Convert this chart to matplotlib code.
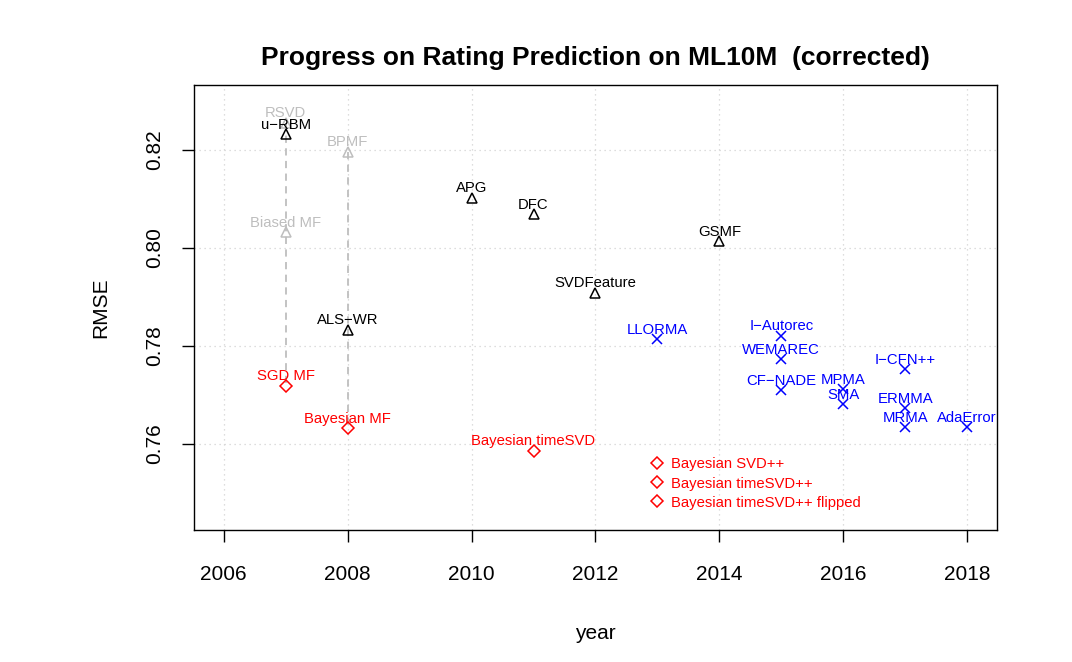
import matplotlib
matplotlib.use('Agg')
import matplotlib.pyplot as plt

plt.rcParams['font.family'] = ['Liberation Sans', 'DejaVu Sans']

M = '\u2212'

# originally reported (grey) results
old_names = ['RSVD', 'BPMF', 'Biased MF']
old_years = [2007, 2008, 2007]
old_rmse = [0.8256, 0.8197, 0.8033]

# other baselines (black)
base_names = ['u' + M + 'RBM', 'APG', 'DFC', 'GSMF', 'SVDFeature', 'ALS' + M + 'WR']
base_years = [2007, 2010, 2011, 2014, 2012, 2008]
base_rmse = [0.8233, 0.8103, 0.8069, 0.8014, 0.7909, 0.7833]

# corrected baselines (red)
red_names = ['SGD MF', 'Bayesian MF', 'Bayesian timeSVD']
red_years = [2007, 2008, 2011]
red_rmse = [0.7719, 0.7632, 0.7586]

red2_names = ['Bayesian SVD++', 'Bayesian timeSVD++', 'Bayesian timeSVD++ flipped']
red2_years = [2013, 2013, 2013]
red2_rmse = [0.7561, 0.7522, 0.7483]

# newer methods (blue)
blue_names = ['LLORMA', 'I' + M + 'Autorec', 'WEMAREC', 'CF' + M + 'NADE', 'MPMA', 'SMA',
              'I' + M + 'CFN++', 'ERMMA', 'MRMA', 'AdaError']
blue_years = [2013, 2015, 2015, 2015, 2016, 2016, 2017, 2017, 2017, 2018]
blue_rmse = [0.7814, 0.7821, 0.7773, 0.7709, 0.7712, 0.7681, 0.7753, 0.7673, 0.7634, 0.7634]

# vertical corrections: (year, from, to)
corr_years = [2007, 2008]
corr_from = [0.8256, 0.8197]
corr_to = [0.7719, 0.7632]

x_ticks = [2006, 2008, 2010, 2012, 2014, 2016, 2018]
y_ticks = [0.76, 0.78, 0.80, 0.82]

fig = plt.figure(figsize=(10.72, 6.62), dpi=100)
ax = fig.add_axes([0.181, 0.1994, 0.749, 0.6722])
ax.set_xlim(2005.52, 2018.48)
ax.set_ylim(0.7424, 0.8333)

# grid
for xv in x_ticks:
    ax.axvline(xv, color='#d3d3d3', lw=0.9, ls=(0, (1, 3)), zorder=0)
for yv in y_ticks:
    ax.axhline(yv, color='#d3d3d3', lw=0.9, ls=(0, (1, 3)), zorder=0)

for xv, y0, y1 in zip(corr_years, corr_from, corr_to):
    ax.plot([xv, xv], [y0, y1], color='#bebebe', lw=1.3, ls=(0, (4, 3)), zorder=1)


def label_above(names, xs, ys, color):
    for n, xv, yv in zip(names, xs, ys):
        ax.annotate(n, (xv, yv), xytext=(0, 3.8), textcoords='offset points',
                    ha='center', va='baseline', fontsize=10.7, color=color, zorder=4)


ax.plot(old_years, old_rmse, ls='none', marker='^', ms=7, mfc='none', mec='#bebebe', mew=1.1, zorder=2)
label_above(old_names, old_years, old_rmse, '#bebebe')

ax.plot(base_years, base_rmse, ls='none', marker='^', ms=7, mfc='none', mec='black', mew=1.1, zorder=3)
label_above(base_names, base_years, base_rmse, 'black')

ax.plot(red_years, red_rmse, ls='none', marker='D', ms=6, mfc='none', mec='red', mew=1.1, zorder=3)
label_above(red_names, red_years, red_rmse, 'red')

ax.plot(red2_years, red2_rmse, ls='none', marker='D', ms=6, mfc='none', mec='red', mew=1.1, zorder=3)
for n, xv, yv in zip(red2_names, red2_years, red2_rmse):
    ax.annotate(n, (xv, yv), xytext=(9.5, 0), textcoords='offset points',
                ha='left', va='center_baseline', fontsize=10.7, color='red', zorder=4)

ax.plot(blue_years, blue_rmse, ls='none', marker='x', ms=6.5, mec='blue', mew=1.1, zorder=3)
label_above(blue_names, blue_years, blue_rmse, 'blue')

ax.set_xticks(x_ticks)
ax.set_yticks(y_ticks)
ax.set_yticklabels(['0.76', '0.78', '0.80', '0.82'], rotation=90, va='center')
ax.tick_params(axis='x', direction='out', length=8.5, width=1, labelsize=15, pad=16.5)
ax.tick_params(axis='y', direction='out', length=8.5, width=1, labelsize=15, pad=13)
for s in ax.spines.values():
    s.set_linewidth(1)

ax.set_xlabel('year', fontsize=15, labelpad=29)
ax.set_ylabel('RMSE', fontsize=15, labelpad=25)
ax.text(0.5, 1.061, 'Progress on Rating Prediction on ML10M  (corrected)', transform=ax.transAxes,
        ha='center', va='center', fontsize=19, fontweight='bold')

fig.savefig('out.png', dpi=100)
